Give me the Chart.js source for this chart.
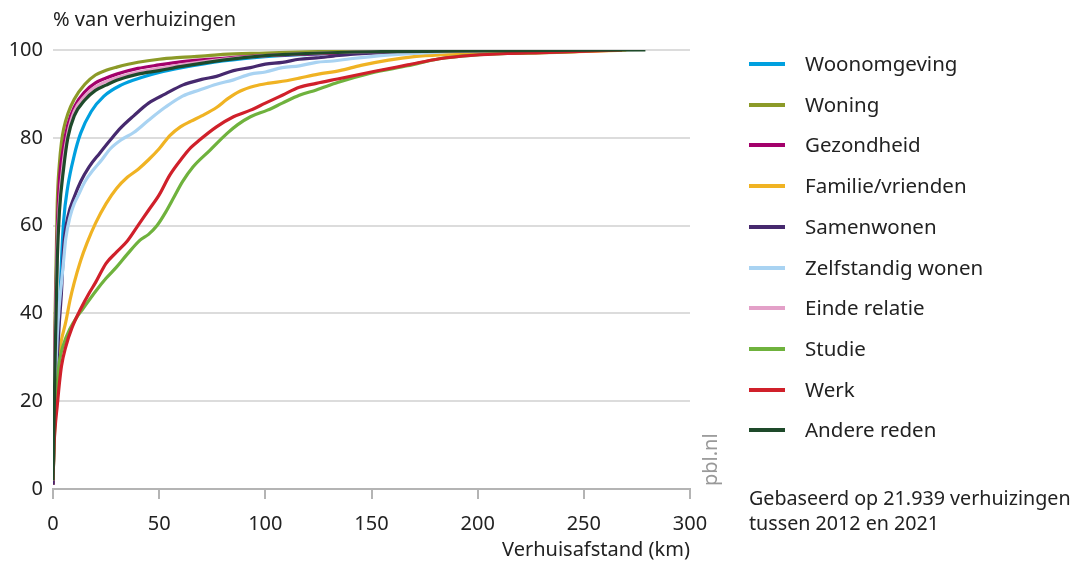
<!DOCTYPE html>
<html><head><meta charset="utf-8">
<script src="https://cdn.jsdelivr.net/npm/chart.js@4"></script>
<style>
body{margin:0;width:1073px;height:562px;overflow:hidden;background:#fff;font-family:'Noto Sans',sans-serif;color:#222}
#wrap{position:relative;width:1073px;height:562px}
canvas{position:absolute;left:0;top:0}
.t{position:absolute;white-space:nowrap;line-height:1}
.lg{position:absolute;left:749px;width:36px;height:4px}
</style></head><body>
<div id="wrap"><canvas id="c" width="1073" height="562"></canvas></div>
<script>
// ---- data ----
const categories = ["Woonomgeving","Woning","Gezondheid","Familie/vrienden","Samenwonen","Zelfstandig wonen","Einde relatie","Studie","Werk","Andere reden"];
const colors = ["#00a0df","#8c9a28","#a3006b","#f0b323","#46296e","#a9d3f2","#e3a0c8","#6fb23d","#d0202a","#1e4a2a"];
const xTicks = [0,50,100,150,200,250,300];
const yTicks = [0,20,40,60,80,100];

const woonomgevingKm  = [0,1,2,3,4,5,7,10,13,18,24,32,42,50,60,80,100,120,150,200,250];
const woonomgevingPct = [2,22,33,40,52,61,69,76,81,86,89.5,92,93.8,94.9,95.9,97.5,98.5,99,99.5,99.8,100];

const woningKm  = [0,1,2,3,4,5,7,10,15,20,25,30,40,50,60,70,80,100,120,150,175];
const woningPct = [1,40,65,74,79,82,85.5,88.8,92.2,94.3,95.4,96.1,97.2,97.9,98.3,98.6,99,99.3,99.6,99.8,100];

const gezondheidKm  = [0,1,2,3,5,7,10,15,20,25,30,40,50,60,80,100,130,160,200,250];
const gezondheidPct = [1,35,58,70,78,83,87,90.5,92.5,93.6,94.5,95.8,96.6,97.3,98.1,98.7,99.2,99.6,99.8,100];

const familieKm  = [0,1,2,3,4,6,8,10,13,16,20,25,30,35,40,45,50,55,60,65,70,77,82,88,95,101,110,116,125,135,145,158,170,182,206,230,258,270];
const familiePct = [2,18,26,31,34,38,43,47,52,56,60.5,65,68.5,71,72.8,75,77.5,80.5,82.5,83.8,85,86.9,88.8,90.6,91.8,92.4,93,93.6,94.5,95.3,96.5,97.7,98.5,98.9,99.2,99.4,99.8,100];

const samenwonenKm  = [0,1,2,3,4,5,7,10,13,17,22,27,32,38,45,53,61,70,77,85,93,100,108,116,124,132,140,160,180,200];
const samenwonenPct = [1,20,30,38,45,55,62,66.5,70,73.4,76.5,79.5,82.3,85,87.9,90,92,93.3,94,95.3,96,96.8,97.2,97.9,98.2,98.6,99,99.5,99.8,100];

const zelfstandigKm  = [0,1,2,3,4,5,6,8,10,12,15,19,23,27,32,38,45,53,61,69,77,85,93,100,108,116,124,132,140,150,170,190,210];
const zelfstandigPct = [2,22,35,42,47,52,57,62,65,67,70,72.7,75,77.5,79.5,81.2,84,87,89.5,90.9,92.2,93.2,94.5,95,96,96.4,97.2,97.5,98,98.5,99.2,99.7,100];

const eindeRelatieKm  = [0,1,2,3,5,7,10,15,20,25,30,40,50,60,80,100,120,150,200,260];
const eindeRelatiePct = [2,33,55,65,75,81,86,89.5,91.6,92.8,93.7,95,95.8,96.6,97.9,98.7,99.2,99.6,99.8,100];

const studieKm  = [0,1,2,3,5,8,11,14,20,25,30,35,41,45,49,53,57,61,66,74,82,87,93,101,108,116,124,134,150,167,182,198,214,240,260];
const studiePct = [2,17,24,29,33,36.5,39,41,45,48,50.6,53.5,56.7,58,60,63,66.5,70,73.4,77.2,81,83,84.8,86.3,87.9,89.7,90.9,92.6,94.8,96.4,98,98.8,99.2,99.5,100];

const werkKm  = [0,0.5,1,2,3,4,6,9,13,17,20,25,30,35,40,45,50,55,61,65,69,77,85,93,100,108,116,124,134,151,167,182,198,214,230,268];
const werkPct = [2,10,14,19,24,28,32.4,36.8,41,44.6,47,51.4,54,56.5,60,63.5,67,71.5,75.5,77.8,79.5,82.5,84.8,86.3,87.9,89.7,91.5,92.4,93.4,95.1,96.6,98,98.8,99.2,99.4,100];

const andereRedenKm  = [0,1,2,3,5,7,10,15,20,25,30,40,50,60,80,100,120,150,200,279];
const andereRedenPct = [2,30,52,63,73,80,85,88.6,90.8,92,93.1,94.5,95.3,96.2,97.7,98.7,99.2,99.6,99.8,100];

const seriesKm  = [woonomgevingKm,woningKm,gezondheidKm,familieKm,samenwonenKm,zelfstandigKm,eindeRelatieKm,studieKm,werkKm,andereRedenKm];
const seriesPct = [woonomgevingPct,woningPct,gezondheidPct,familiePct,samenwonenPct,zelfstandigPct,eindeRelatiePct,studiePct,werkPct,andereRedenPct];

// ---- chart ----
const FONT = "'Noto Sans', sans-serif";
const datasets = categories.map((name,i)=>({
  label:name,
  data: seriesKm[i].map((k,j)=>({x:k,y:seriesPct[i][j]})),
  borderColor:colors[i],
  backgroundColor:colors[i],
  borderWidth:3.2,
  pointRadius:0,
  cubicInterpolationMode:'monotone',
  order: categories.length - i
}));

new Chart(document.getElementById('c'),{
  type:'line',
  data:{datasets},
  options:{
    responsive:false,animation:false,devicePixelRatio:1,
    layout:{padding:{left:0,right:383,top:50,bottom:0}},
    plugins:{legend:{display:false},tooltip:{enabled:false}},
    scales:{
      x:{type:'linear',min:0,max:300,
        afterBuildTicks:s=>{s.ticks=xTicks.map(v=>({value:v}));},
        afterFit:s=>{s.height=73;},
        border:{display:true,color:'#b4b4b4',width:2},
        grid:{drawOnChartArea:false,drawTicks:true,tickLength:10,color:'#b4b4b4',lineWidth:2},
        ticks:{padding:13,color:'#222',font:{family:FONT,size:20},maxRotation:0}
      },
      y:{min:0,max:100,
        afterBuildTicks:s=>{s.ticks=yTicks.map(v=>({value:v}));},
        afterFit:s=>{s.width=53;},
        border:{display:false},
        grid:{drawTicks:false,color:c=>c.tick&&c.tick.value===0?'rgba(0,0,0,0)':'#dcdcdc',lineWidth:2},
        ticks:{padding:10,color:'#222',font:{family:FONT,size:20}}
      }
    }
  }
});

// ---- texts & legend ----
const wrap=document.getElementById('wrap');
function addText(txt,css){const d=document.createElement('div');d.className='t';d.textContent=txt;d.style.cssText+=css;wrap.appendChild(d);return d;}
addText('% van verhuizingen','left:53px;top:9px;font-size:20px;');
addText('Verhuisafstand (km)','right:383px;top:539px;font-size:20px;');
addText('pbl.nl','left:700px;top:486px;font-size:20px;color:#999;transform:rotate(-90deg);transform-origin:0 0;');
addText('Gebaseerd op 21.939 verhuizingen','left:749px;top:488px;font-size:19.7px;');
addText('tussen 2012 en 2021','left:749px;top:513px;font-size:19.7px;');
categories.forEach((name,i)=>{
  const y=64+i*40.7;
  const l=document.createElement('div');l.className='lg';l.style.top=(y-2)+'px';l.style.background=colors[i];wrap.appendChild(l);
  addText(name,'left:805px;top:'+(y-11)+'px;font-size:20.5px;');
});
</script>
</body></html>
